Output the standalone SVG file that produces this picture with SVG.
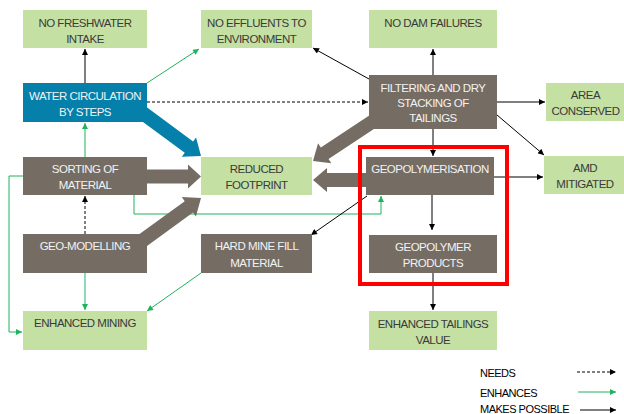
<svg xmlns="http://www.w3.org/2000/svg" width="624" height="414" viewBox="0 0 624 414">
<style>
.g{fill:#C5E0A3}
.b{fill:#756D64}
.w{fill:#0580AA}
text{font-family:"Liberation Sans",Arial,sans-serif;font-size:11.5px;letter-spacing:-0.5px;text-anchor:middle}
.tg{fill:#3A3A3A}
.tb{fill:#F2F2F2}
.k{stroke:#000;stroke-width:1;fill:none}
.gr{stroke:#1DB45A;stroke-width:1;fill:none}
.lg{stroke:#6FD3A8;stroke-width:1.6;fill:none}
.d{stroke-dasharray:3,2}
.big{fill:#756D64}
.leg{fill:#000;text-anchor:start;font-size:11px}
</style>
<defs>
<marker id="ak" viewBox="0 0 8 8" refX="8" refY="4" markerWidth="7" markerHeight="6" markerUnits="userSpaceOnUse" orient="auto"><path d="M0,0 L8,4 L0,8 Z" fill="#000"/></marker>
<marker id="ag" viewBox="0 0 8 8" refX="8" refY="4" markerWidth="7" markerHeight="6" markerUnits="userSpaceOnUse" orient="auto"><path d="M0,0 L8,4 L0,8 Z" fill="#1DB45A"/></marker>
</defs>

<g id="connectors">
<path class="k" d="M85,83 L85,49" marker-end="url(#ak)"/>
<path class="gr" d="M147,83 L199,49" marker-end="url(#ag)"/>
<path class="k d" d="M147,102 L368,102" marker-end="url(#ak)"/>
<path class="k" d="M433,75 L433,49" marker-end="url(#ak)"/>
<path class="k" d="M369,79 L313,48" marker-end="url(#ak)"/>
<path class="k" d="M497,102 L545,102" marker-end="url(#ak)"/>
<path class="k" d="M497,115 L544,155" marker-end="url(#ak)"/>
<path class="k" d="M433,129 L433,156" marker-end="url(#ak)"/>
<path class="gr" d="M85,157 L85,123" marker-end="url(#ag)"/>
<path class="k d" d="M85,234 L85,196" marker-end="url(#ak)"/>
<path class="gr" d="M134,195 L134,214 L381,214 L381,196" marker-end="url(#ag)"/>
<path class="k" d="M367,196 L311,235" marker-end="url(#ak)"/>
<path class="k" d="M432,195 L432,230" marker-end="url(#ak)"/>
<path class="k" d="M433,273 L433,310" marker-end="url(#ak)"/>
<path class="k" d="M494,177 L543,177" marker-end="url(#ak)"/>
<path class="gr" d="M23,176 L9,176 L9,332 L22,332" marker-end="url(#ag)"/>
<path class="lg" d="M85,273 L85,310" marker-end="url(#ag)"/>
<path class="gr" d="M201,273 L147,311" marker-end="url(#ag)"/>
</g>

<g id="n-nofresh"><rect class="g" x="23" y="10" width="124" height="38"/><text class="tg" x="85" y="26.5">NO FRESHWATER</text><text class="tg" x="85" y="42.5">INTAKE</text></g>
<g id="n-noeffl"><rect class="g" x="201" y="10" width="111" height="38"/><text class="tg" x="256.5" y="26.5">NO EFFLUENTS TO</text><text class="tg" x="256.5" y="42.5">ENVIRONMENT</text></g>
<g id="n-nodam"><rect class="g" x="369" y="10" width="128" height="38"/><text class="tg" x="433" y="26.5">NO DAM FAILURES</text></g>
<g id="n-water"><rect class="w" x="23" y="83" width="124" height="39"/><text class="tb" x="85" y="99.5">WATER CIRCULATION</text><text class="tb" x="85" y="115.5">BY STEPS</text></g>
<g id="n-filter"><rect class="b" x="369" y="75" width="128" height="54"/><text class="tb" x="433" y="91.5">FILTERING AND DRY</text><text class="tb" x="433" y="106.5">STACKING OF</text><text class="tb" x="433" y="121.5">TAILINGS</text></g>
<g id="n-area"><rect class="g" x="546" y="83" width="79" height="38"/><text class="tg" x="585.5" y="99">AREA</text><text class="tg" x="585.5" y="115">CONSERVED</text></g>
<g id="n-sorting"><rect class="b" x="23" y="157" width="124" height="38"/><text class="tb" x="85" y="173">SORTING OF</text><text class="tb" x="85" y="189">MATERIAL</text></g>
<g id="n-reduced"><rect class="g" x="201" y="157" width="111" height="38"/><text class="tg" x="256.5" y="173">REDUCED</text><text class="tg" x="256.5" y="189">FOOTPRINT</text></g>
<g id="n-geopol"><rect class="b" x="366" y="157" width="128" height="38"/><text class="tb" x="430" y="173">GEOPOLYMERISATION</text></g>
<g id="n-amd"><rect class="g" x="544" y="156" width="81" height="38"/><text class="tg" x="585" y="172">AMD</text><text class="tg" x="585" y="188">MITIGATED</text></g>
<g id="n-geomod"><rect class="b" x="23" y="234" width="124" height="39"/><text class="tb" x="85" y="250">GEO-MODELLING</text></g>
<g id="n-hardmine"><rect class="b" x="201" y="234" width="111" height="39"/><text class="tb" x="256.5" y="250">HARD MINE FILL</text><text class="tb" x="256.5" y="266.5">MATERIAL</text></g>
<g id="n-gproducts"><rect class="b" x="369" y="235" width="128" height="38"/><text class="tb" x="433" y="250.5">GEOPOLYMER</text><text class="tb" x="433" y="266.5">PRODUCTS</text></g>
<g id="n-enhmining"><rect class="g" x="23" y="311" width="124" height="39"/><text class="tg" x="85" y="327">ENHANCED MINING</text></g>
<g id="n-enhtail"><rect class="g" x="369" y="311" width="128" height="39"/><text class="tg" x="433" y="328">ENHANCED TAILINGS</text><text class="tg" x="433" y="344">VALUE</text></g>

<g id="big-arrows">
<polygon fill="#0580AA" points="135.84,116.64 184.76,152.73 181.79,156.75 201,156 196.05,137.43 193.08,141.45 144.16,105.36"/>
<polygon class="big" points="147,169.5 188,169.5 188,164.5 201,176.5 188,188.5 188,183.5 147,183.5"/>
<polygon class="big" points="139.12,251.66 192.98,212.48 195.92,216.53 201,198 181.80,197.11 184.74,201.16 130.88,240.34"/>
<polygon class="big" points="374.14,112.16 320.82,147.43 318.06,143.26 313,161 331.30,163.28 328.54,159.11 381.86,123.84"/>
<polygon class="big" points="367,173 327,173 327,168 313,180 327,192 327,187 367,187"/>
</g>

<rect x="360" y="147" width="147" height="137" fill="none" stroke="#FF0000" stroke-width="4"/>

<g id="legend">
<text class="leg" x="480" y="377">NEEDS</text>
<text class="leg" x="480" y="397">ENHANCES</text>
<text class="leg" x="480" y="413">MAKES POSSIBLE</text>
<path class="k d" d="M577,372 L616,372" marker-end="url(#ak)"/>
<path class="gr" d="M578,392 L616,392" marker-end="url(#ag)"/>
<path class="k" d="M580,410 L616,410" marker-end="url(#ak)"/>
</g>
</svg>
